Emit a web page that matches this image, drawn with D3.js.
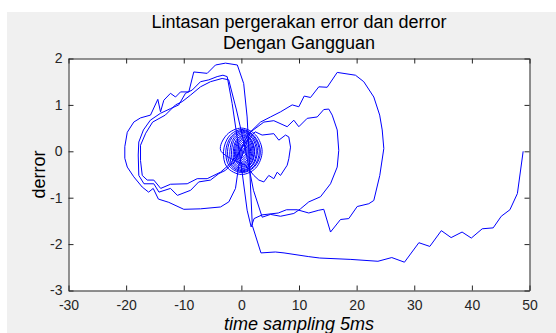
<!DOCTYPE html>
<html>
<head>
<meta charset="utf-8">
<script src="https://cdn.jsdelivr.net/npm/d3@7"></script>
<style>
body { margin: 0; background: #fff; }
svg { display: block; font-family: "Liberation Sans", Arial, sans-serif; }
</style>
</head>
<body>
<svg id="chart" width="556" height="333"></svg>
<script>
// [error, derror] pairs, in drawing order
var startPath = [[48.9,0.0],[47.9,-0.91],[46.6,-1.26],[45.1,-1.40],[43.7,-1.65],[41.8,-1.67],[39.9,-1.87],[38.3,-1.74],[36.4,-1.86],[34.7,-1.71],[32.7,-2.05],[30.8,-1.97],[28.3,-2.39],[26.1,-2.29],[23.7,-2.37],[19.0,-2.33],[13.6,-2.30],[11.7,-2.27],[7.4,-2.19],[5.9,-2.17],[3.4,-2.19]];
var switch1 = [[1.9,-1.6],[1.3,0.02],[1.0,0.74],[0.4,1.46],[-0.7,1.86]];
var leftLoop1 = [[-2.76,1.90],[-4.49,1.86],[-5.93,1.68],[-8.26,1.71],[-9.12,1.28],[-10.56,1.28],[-11.43,1.17],[-12.3,1.25],[-13.46,1.10],[-14.03,0.85],[-14.5,1.12],[-15.77,0.78],[-17.5,0.72],[-18.67,0.63],[-19.8,0.41],[-20.23,0.10],[-20.23,-0.15],[-19.8,-0.34],[-18.67,-0.55],[-17.21,-0.77],[-16.1,-0.88],[-15.3,-0.80],[-14.4,-1.03],[-12.6,-1.10],[-9.99,-1.25],[-7.1,-1.24],[-3.62,-1.20],[-2.18,-1.09],[-1.02,-0.80],[-0.45,-0.30]];
var rightLoop1 = [[1.58,0.42],[3.32,0.63],[5.05,0.74],[6.79,0.85],[8.82,1.0],[9.97,0.96],[10.9,1.19],[12.0,1.16],[13.44,1.39],[14.89,1.38],[16.63,1.70],[19.8,1.64],[21.24,1.50],[22.98,1.17],[24.0,0.78],[24.44,0.46],[24.72,0.06],[24.02,-0.52],[22.98,-1.06],[22.11,-1.13],[20.1,-1.19],[18.64,-1.45],[17.2,-1.47],[15.47,-1.74],[14.3,-1.25],[13.44,-1.27],[11.7,-1.33],[9.69,-1.26],[7.83,-1.26],[6.4,-1.33],[3.6,-1.37],[2.2,-1.45],[1.7,-1.63]];
var switch2 = [[1.0,-1.27],[-0.15,-0.19],[-1.6,1.03],[-2.46,1.61]];
var leftLoop2 = [[-3.2,1.64],[-4.2,1.61],[-5.65,1.54],[-7.09,1.50],[-8.53,1.32],[-9.7,1.25],[-10.86,1.0],[-12.3,0.92],[-14.03,0.82],[-15.8,0.67],[-17.0,0.46],[-17.8,0.2],[-17.9,-0.08],[-17.8,-0.52],[-16.9,-0.70],[-15.2,-0.70],[-14.3,-0.88],[-12.3,-0.80],[-11.1,-0.95],[-8.8,-0.84],[-7.4,-0.66],[-5.36,-0.62],[-3.9,-0.48],[-2.75,-0.41],[-1.0,-0.19]];
var rightLoop2 = [[1.2,0.38],[3.9,0.63],[5.63,0.66],[7.95,0.53],[9.1,0.67],[9.97,0.53],[11.42,0.71],[13.16,0.74],[14.3,0.90],[15.17,0.91],[15.76,0.78],[16.63,0.46],[16.9,0.02],[16.63,-0.34],[15.47,-0.70],[13.73,-0.98],[11.7,-1.09],[10.26,-1.24],[9.1,-1.34],[6.79,-1.40],[5.05,-1.36],[3.61,-1.42]];
var switch3 = [[2.1,-0.84],[0.72,0.03],[-0.85,0.89],[-2.2,1.54]];
var leftLoop3 = [[-3.33,1.57],[-5.36,1.5],[-7.09,1.39],[-8.83,1.21],[-10.27,1.07],[-11.43,1.0],[-13.2,0.78],[-15.4,0.63],[-16.6,0.39],[-17.5,0.13],[-17.5,-0.2],[-17.2,-0.52],[-16.34,-0.62],[-15.2,-0.62],[-14.0,-0.80],[-12.3,-0.71],[-9.4,-0.70],[-7.67,-0.59],[-5.93,-0.59],[-3.62,-0.45],[-2.23,-0.30],[-1.0,-0.13]];
var rightLoop3 = [[0.9,0.22],[2.4,0.42],[3.6,0.35],[5.63,0.38],[6.5,0.24],[7.66,0.35],[8.23,0.31],[8.53,0.09],[8.23,-0.16],[7.95,-0.30],[6.79,-0.52],[6.22,-0.45],[5.63,-0.59],[4.76,-0.52],[3.9,-0.66],[3.03,-0.62],[2.16,-0.52],[0.72,-0.30]];
// settling spiral round the origin
var spiral = [
  [-3.6,0.02],[-2.5,0.36],[0,0.5],[2.5,0.35],[3.6,0],[2.5,-0.36],[0,-0.5],[-2.5,-0.34],
  [-3.1,0],[-2.1,0.33],[0.1,0.47],[2.3,0.32],[3.3,-0.02],[2.3,-0.33],[0.1,-0.46],[-2.1,-0.32],
  [-2.7,0.01],[-1.8,0.31],[0.2,0.45],[2.2,0.31],[3.1,0],[2.2,-0.32],[0.2,-0.44],[-1.8,-0.31],
  [-2.4,0],[-1.6,0.30],[0.2,0.43],[2.0,0.30],[2.8,0.02],[2.0,-0.30],[0.2,-0.42],[-1.6,-0.29],
  [-2.0,0],[-1.3,0.29],[0.3,0.41],[1.9,0.28],[2.6,0],[1.9,-0.29],[0.3,-0.40],[-1.3,-0.28],
  [-1.7,0.01],[-1.1,0.27],[0.3,0.38],[1.7,0.26],[2.3,0],[1.7,-0.27],[0.3,-0.37],[-1.1,-0.26],
  [-1.4,0],[-0.86,0.25],[0.4,0.35],[1.66,0.24],[2.2,0],[1.66,-0.25],[0.4,-0.34],[-0.86,-0.24],
  [-1.2,0],[-0.72,0.23],[0.4,0.33],[1.52,0.23],[2.0,0.01],[1.52,-0.23],[0.4,-0.32],[-0.72,-0.22],
  [-1.0,0],[-0.58,0.21],[0.4,0.30],[1.38,0.21],[1.8,0],[1.38,-0.21],[0.4,-0.29],[-0.58,-0.2],
  [-0.8,0],[-0.44,0.19],[0.4,0.27],[1.24,0.19],[1.6,0],[1.24,-0.19],[0.4,-0.26],[-0.44,-0.18],
  [-0.6,0],[-0.3,0.17],[0.4,0.24],[1.1,0.17],[1.4,0],[1.1,-0.17],[0.4,-0.23],[-0.3,-0.16],
  [-0.4,0],[-0.16,0.14],[0.4,0.2],[0.96,0.14],[1.2,0],[0.96,-0.14],[0.4,-0.19],[-0.16,-0.13],
  [-0.2,0],[-0.02,0.11],[0.4,0.16],[0.82,0.11],[1.0,0],[0.82,-0.11],[0.4,-0.15],[-0.02,-0.1],
  [0,0],[0.12,0.08],[0.4,0.12],[0.68,0.08],[0.8,0],[0.68,-0.08],[0.4,-0.11],[0.12,-0.08],
  [0.2,0],[0.26,0.04],[0.4,0.06],[0.54,0.04],[0.6,0],[0.54,-0.04],[0.4,-0.05],[0.3,-0.03],
  [0.4,0]
];

var xTicks = [-30, -20, -10, 0, 10, 20, 30, 40, 50];
var yTicks = [-3, -2, -1, 0, 1, 2];

var titleLines = ["Lintasan pergerakan error dan derror", "Dengan Gangguan"];
var xLabel = "time sampling 5ms";
var yLabel = "derror";

var trajectory = [].concat(startPath, switch1, leftLoop1, rightLoop1, switch2,
    leftLoop2, rightLoop2, switch3, leftLoop3, rightLoop3);

var svg = d3.select("#chart");

// grey figure background
svg.append("rect")
    .attr("x", 7).attr("y", 12)
    .attr("width", 549).attr("height", 321)
    .attr("fill", "#f0f0f0");

var x = d3.scaleLinear().domain([-30, 50]).range([68.5, 529.5]);
var y = d3.scaleLinear().domain([-3, 2]).range([290.5, 58.5]);

svg.append("rect")
    .attr("x", x(-30)).attr("y", y(2))
    .attr("width", x(50) - x(-30)).attr("height", y(-3) - y(2))
    .attr("fill", "#fff");

// the trajectory: jagged part straight, settling spiral smoothed
var line = d3.line()
    .x(function(d) { return x(d[0]); })
    .y(function(d) { return y(d[1]); });

svg.append("path")
    .datum(trajectory)
    .attr("d", line)
    .attr("fill", "none")
    .attr("stroke", "#0000ff")
    .attr("stroke-width", 1)
    .attr("stroke-linejoin", "round");

svg.append("path")
    .datum([trajectory[trajectory.length - 1]].concat(spiral))
    .attr("d", line.curve(d3.curveCatmullRom))
    .attr("fill", "none")
    .attr("stroke", "#0000ff")
    .attr("stroke-width", 1);

// axes, ticks point inward on all four sides
function styleAxis(g) {
    g.select(".domain").attr("stroke", "#262626");
    g.selectAll(".tick line").attr("stroke", "#262626");
    g.selectAll(".tick text")
        .attr("fill", "#262626")
        .style("font-size", "14px")
        .style("font-family", "'Liberation Sans', Arial, sans-serif");
}

var fmt = function(d) { return String(d); };

svg.append("g")
    .attr("transform", "translate(0," + y(-3) + ")")
    .call(d3.axisBottom(x).tickValues(xTicks).tickFormat(fmt).tickSizeInner(-5).tickSizeOuter(0).tickPadding(10))
    .call(styleAxis);

svg.append("g")
    .attr("transform", "translate(0," + y(2) + ")")
    .call(d3.axisTop(x).tickValues(xTicks).tickSizeInner(-5).tickSizeOuter(0).tickFormat(""))
    .call(styleAxis);

svg.append("g")
    .attr("transform", "translate(" + x(-30) + ",0)")
    .call(d3.axisLeft(y).tickValues(yTicks).tickFormat(fmt).tickSizeInner(-5).tickSizeOuter(0).tickPadding(6))
    .call(styleAxis);

svg.append("g")
    .attr("transform", "translate(" + x(50) + ",0)")
    .call(d3.axisRight(y).tickValues(yTicks).tickSizeInner(-5).tickSizeOuter(0).tickFormat(""))
    .call(styleAxis);

// title
var midX = (x(-30) + x(50)) / 2;
svg.selectAll(".title")
    .data(titleLines)
    .enter().append("text")
    .attr("class", "title")
    .attr("x", midX)
    .attr("y", function(d, i) { return 28 + i * 21; })
    .attr("text-anchor", "middle")
    .attr("fill", "#000")
    .style("font-size", "18px")
    .text(function(d) { return d; });

// axis labels
svg.append("text")
    .attr("x", midX)
    .attr("y", 330)
    .attr("text-anchor", "middle")
    .attr("fill", "#000")
    .style("font-size", "18px")
    .style("font-style", "italic")
    .text(xLabel);

svg.append("text")
    .attr("transform", "translate(45," + ((y(2) + y(-3)) / 2) + ") rotate(-90)")
    .attr("text-anchor", "middle")
    .attr("fill", "#000")
    .style("font-size", "18px")
    .text(yLabel);
</script>
</body>
</html>
